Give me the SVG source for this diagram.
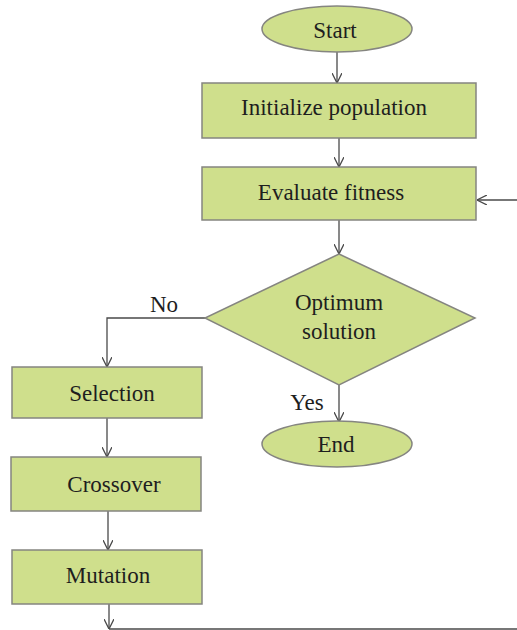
<svg xmlns="http://www.w3.org/2000/svg" width="517" height="630" viewBox="0 0 517 630">
<style>
.box{fill:#cfdf8c;stroke:#858580;stroke-width:1.5}
.t{font-family:"Liberation Serif","Times New Roman",serif;font-size:23px;fill:#1e1e1e;text-anchor:middle}
.c{fill:none;stroke:#4a4a4a;stroke-width:1.3}
</style>
<defs>
<marker id="a" viewBox="0 0 10 10" refX="10" refY="5" markerWidth="10" markerHeight="10" markerUnits="userSpaceOnUse" orient="auto">
<path d="M0,0 L10,5 L0,10" fill="none" stroke="#4a4a4a" stroke-width="1.3"/>
</marker>
</defs>
<rect width="517" height="630" fill="#ffffff"/>
<g id="connectors">
<line class="c" x1="337" y1="52" x2="337" y2="83" marker-end="url(#a)"/>
<line class="c" x1="339" y1="138" x2="339" y2="167" marker-end="url(#a)"/>
<line class="c" x1="517" y1="200" x2="477" y2="200" marker-end="url(#a)"/>
<line class="c" x1="339" y1="220" x2="339" y2="254" marker-end="url(#a)"/>
<polyline class="c" points="205,318 107,318 107,367" marker-end="url(#a)"/>
<line class="c" x1="339" y1="385" x2="339" y2="422" marker-end="url(#a)"/>
<line class="c" x1="107" y1="418" x2="107" y2="457" marker-end="url(#a)"/>
<line class="c" x1="108" y1="511" x2="108" y2="550" marker-end="url(#a)"/>
<line class="c" x1="109" y1="604" x2="109" y2="629" marker-end="url(#a)"/>
<line class="c" x1="109" y1="629" x2="517" y2="629"/>
<text class="t" x="164" y="312">No</text>
<text class="t" x="307" y="410">Yes</text>
</g>
<g id="start">
<ellipse class="box" cx="337" cy="29" rx="75" ry="23"/>
<text class="t" x="335" y="38">Start</text>
</g>
<g id="init">
<rect class="box" x="202" y="83" width="274" height="55"/>
<text class="t" x="334" y="115">Initialize population</text>
</g>
<g id="evaluate">
<rect class="box" x="202" y="167" width="274" height="53"/>
<text class="t" x="331" y="200">Evaluate fitness</text>
</g>
<g id="decision">
<polygon class="box" points="339,254 475,318 339,385 205,318"/>
<text class="t" x="339" y="310">Optimum</text>
<text class="t" x="339" y="339">solution</text>
</g>
<g id="end">
<ellipse class="box" cx="337" cy="444" rx="75" ry="23"/>
<text class="t" x="336" y="452">End</text>
</g>
<g id="selection">
<rect class="box" x="12" y="367" width="190" height="51"/>
<text class="t" x="112" y="401">Selection</text>
</g>
<g id="crossover">
<rect class="box" x="11" y="457" width="190" height="54"/>
<text class="t" x="114" y="492">Crossover</text>
</g>
<g id="mutation">
<rect class="box" x="12" y="550" width="190" height="54"/>
<text class="t" x="108" y="583">Mutation</text>
</g>
</svg>
